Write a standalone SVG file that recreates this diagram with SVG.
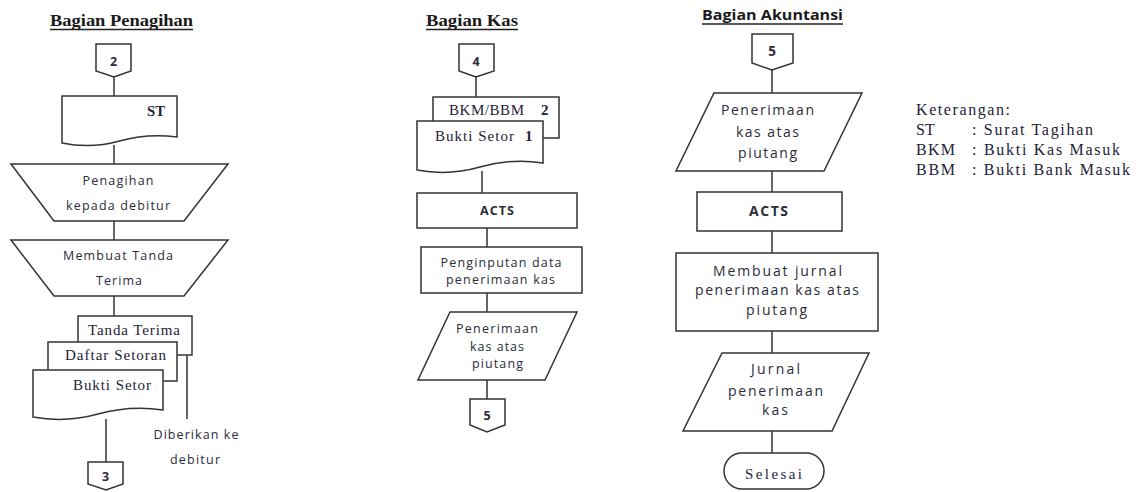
<svg xmlns="http://www.w3.org/2000/svg" width="1137" height="492" viewBox="0 0 1137 492">
<style>
.sh{fill:#fff;stroke:#333;stroke-width:1.5}
.ln{stroke:#333;stroke-width:1.5;fill:none}
.ul{stroke:#222;stroke-width:1.5}
.sa{font-family:"Open Sans","Liberation Sans",sans-serif;font-size:12.5px;fill:#2b2b3a;text-anchor:middle}
.sa2{font-family:"Open Sans","Liberation Sans",sans-serif;font-size:14px;fill:#2b2b3a;text-anchor:middle}
.sb{font-family:"Open Sans","Liberation Sans",sans-serif;font-weight:bold;fill:#2b2b3a;text-anchor:middle}
.se{font-family:"Liberation Serif",serif;font-size:15px;fill:#1e2238}
.sem{font-family:"Liberation Serif",serif;font-size:15px;fill:#1e2238;text-anchor:middle}
.tt{font-family:"Liberation Serif",serif;font-size:16px;font-weight:bold;fill:#1a1a1a}
.lg{font-family:"Liberation Serif",serif;font-size:16px;fill:#1e2238}
</style>

<g id="titles">
<text class="tt" x="50" y="26" textLength="143" lengthAdjust="spacingAndGlyphs">Bagian Penagihan</text>
<line class="ul" x1="50" y1="29.5" x2="193" y2="29.5"/>
<text class="tt" x="426" y="26" textLength="92" lengthAdjust="spacingAndGlyphs">Bagian Kas</text>
<line class="ul" x1="426" y1="29.5" x2="518" y2="29.5"/>
<text x="702" y="20" font-family="'Open Sans','Liberation Sans',sans-serif" font-size="14" font-weight="bold" fill="#1a1a1a" textLength="141" lengthAdjust="spacingAndGlyphs">Bagian Akuntansi</text>
<line class="ul" x1="702" y1="24" x2="843" y2="24"/>
</g>

<g id="connectors">
<line class="ln" x1="114" y1="77" x2="114" y2="96"/>
<line class="ln" x1="114" y1="145" x2="114" y2="164"/>
<line class="ln" x1="114" y1="221" x2="114" y2="240"/>
<line class="ln" x1="114" y1="296" x2="114" y2="316"/>
<line class="ln" x1="187" y1="355" x2="187" y2="419"/>
<line class="ln" x1="106" y1="419" x2="106" y2="462"/>
<line class="ln" x1="476" y1="77" x2="476" y2="97"/>
<line class="ln" x1="482" y1="171" x2="482" y2="193"/>
<line class="ln" x1="487" y1="228" x2="487" y2="247"/>
<line class="ln" x1="487" y1="293" x2="487" y2="312"/>
<line class="ln" x1="487" y1="380" x2="487" y2="399"/>
<line class="ln" x1="772" y1="70" x2="772" y2="93"/>
<line class="ln" x1="772" y1="171" x2="772" y2="192"/>
<line class="ln" x1="772" y1="231" x2="772" y2="253"/>
<line class="ln" x1="772" y1="331" x2="772" y2="353"/>
<line class="ln" x1="772" y1="431" x2="772" y2="453"/>
</g>

<g id="off2">
<path class="sh" d="M96,44 H131 V71 L114,77 L96,71 Z"/>
<text class="sb" x="113.5" y="66" font-size="12.5">2</text>
</g>
<g id="docST">
<path class="sh" d="M62,96 H177 V137 Q148,133 119.5,141 T62,143 Z"/>
<text class="se" x="147" y="116" font-weight="bold" textLength="18" lengthAdjust="spacingAndGlyphs">ST</text>
</g>
<g id="penagihan">
<path class="sh" d="M11,164 H228 L184,221 H54 Z"/>
<text class="sa" x="118" y="185" textLength="71" lengthAdjust="spacing">Penagihan</text>
<text class="sa" x="118" y="210" textLength="104" lengthAdjust="spacing">kepada debitur</text>
</g>
<g id="membuatTanda">
<path class="sh" d="M11,240 H228 L184,296 H54 Z"/>
<text class="sa" x="118" y="260" textLength="110" lengthAdjust="spacing">Membuat Tanda</text>
<text class="sa" x="119" y="285" textLength="46" lengthAdjust="spacing">Terima</text>
</g>
<g id="stackPenagihan">
<rect class="sh" x="78" y="316" width="114" height="39"/>
<text class="sem" x="134" y="335" textLength="92" lengthAdjust="spacing">Tanda Terima</text>
<rect class="sh" x="48" y="342" width="129" height="39"/>
<text class="sem" x="115.5" y="360" textLength="101" lengthAdjust="spacing">Daftar Setoran</text>
<path class="sh" d="M33,370 H163 V410 Q130.5,405 98,414 T33,417 Z"/>
<text class="sem" x="112" y="390" textLength="78" lengthAdjust="spacing">Bukti Setor</text>
</g>
<g id="diberikan">
<text class="sa" x="196" y="439" textLength="85" lengthAdjust="spacing">Diberikan ke</text>
<text class="sa" x="195" y="464" textLength="50" lengthAdjust="spacing">debitur</text>
</g>
<g id="off3">
<path class="sh" d="M88,462 H123 V484 L106,490 L88,484 Z"/>
<text class="sb" x="105.5" y="481" font-size="12.5">3</text>
</g>

<g id="off4">
<path class="sh" d="M459,44 H494 V71 L476,77 L459,71 Z"/>
<text class="sb" x="476" y="66" font-size="12.5">4</text>
</g>
<g id="docKas">
<path class="sh" d="M433,121 V97 H559 V138 H543"/>
<text class="se" x="449" y="115" textLength="75" lengthAdjust="spacing">BKM/BBM</text>
<text class="se" x="541" y="115" font-weight="bold">2</text>
<path class="sh" d="M417,121 H543 V163 Q511.5,158 480,167 T417,170 Z"/>
<text class="se" x="435" y="141" textLength="79" lengthAdjust="spacing">Bukti Setor</text>
<text class="se" x="525" y="141" font-weight="bold">1</text>
</g>
<g id="actsKas">
<rect class="sh" x="417" y="193" width="160" height="35"/>
<text class="sb" x="497" y="215" font-size="12.5" textLength="34" lengthAdjust="spacing">ACTS</text>
</g>
<g id="penginputan">
<rect class="sh" x="421" y="247" width="161" height="46"/>
<text class="sa" x="501" y="267" textLength="121" lengthAdjust="spacing">Penginputan data</text>
<text class="sa" x="500.5" y="284" textLength="109" lengthAdjust="spacing">penerimaan kas</text>
</g>
<g id="penerimaanKas">
<path class="sh" d="M450,312 H577 L545,380 H418 Z"/>
<text class="sa" x="497" y="333" textLength="82" lengthAdjust="spacing">Penerimaan</text>
<text class="sa" x="497" y="351" textLength="54" lengthAdjust="spacing">kas atas</text>
<text class="sa" x="497.5" y="368" textLength="51" lengthAdjust="spacing">piutang</text>
</g>
<g id="off5a">
<path class="sh" d="M470,399 H505 V425 L487,432 L470,425 Z"/>
<text class="sb" x="487" y="420" font-size="12.5">5</text>
</g>

<g id="off5b">
<path class="sh" d="M752,34 H793 V63 L772,70 L752,63 Z"/>
<text class="sb" x="772" y="56" font-size="13.5">5</text>
</g>
<g id="penerimaanAk">
<path class="sh" d="M714,93 H862 L824,171 H676 Z"/>
<text class="sa2" x="767.5" y="115" textLength="93" lengthAdjust="spacing">Penerimaan</text>
<text class="sa2" x="767.5" y="137" textLength="63" lengthAdjust="spacing">kas atas</text>
<text class="sa2" x="767.5" y="158" textLength="59" lengthAdjust="spacing">piutang</text>
</g>
<g id="actsAk">
<rect class="sh" x="697" y="192" width="145" height="39"/>
<text class="sb" x="768.5" y="216" font-size="14" textLength="39" lengthAdjust="spacing">ACTS</text>
</g>
<g id="membuatJurnal">
<rect class="sh" x="676" y="253" width="202" height="78"/>
<text class="sa2" x="777.5" y="276" textLength="129" lengthAdjust="spacing">Membuat jurnal</text>
<text class="sa2" x="777" y="295" textLength="164" lengthAdjust="spacing">penerimaan kas atas</text>
<text class="sa2" x="776.5" y="315" textLength="61" lengthAdjust="spacing">piutang</text>
</g>
<g id="jurnal">
<path class="sh" d="M722,353 H869 L832,431 H683 Z"/>
<text class="sa2" x="775.5" y="374" textLength="49" lengthAdjust="spacing">Jurnal</text>
<text class="sa2" x="775.5" y="396" textLength="95" lengthAdjust="spacing">penerimaan</text>
<text class="sa2" x="775" y="415" textLength="26" lengthAdjust="spacing">kas</text>
</g>
<g id="selesai">
<rect class="sh" x="724" y="453" width="100" height="36" rx="18"/>
<text class="sem" x="773.5" y="479" font-size="17" textLength="57" lengthAdjust="spacing">Selesai</text>
</g>

<g id="legend">
<text class="lg" x="916" y="115" textLength="94" lengthAdjust="spacing">Keterangan:</text>
<text class="lg" x="916" y="135">ST</text>
<text class="lg" x="972" y="135" textLength="121" lengthAdjust="spacing">: Surat Tagihan</text>
<text class="lg" x="916" y="155" textLength="39" lengthAdjust="spacing">BKM</text>
<text class="lg" x="972" y="155" textLength="148" lengthAdjust="spacing">: Bukti Kas Masuk</text>
<text class="lg" x="916" y="175" textLength="39" lengthAdjust="spacing">BBM</text>
<text class="lg" x="972" y="175" textLength="158" lengthAdjust="spacing">: Bukti Bank Masuk</text>
</g>
</svg>
